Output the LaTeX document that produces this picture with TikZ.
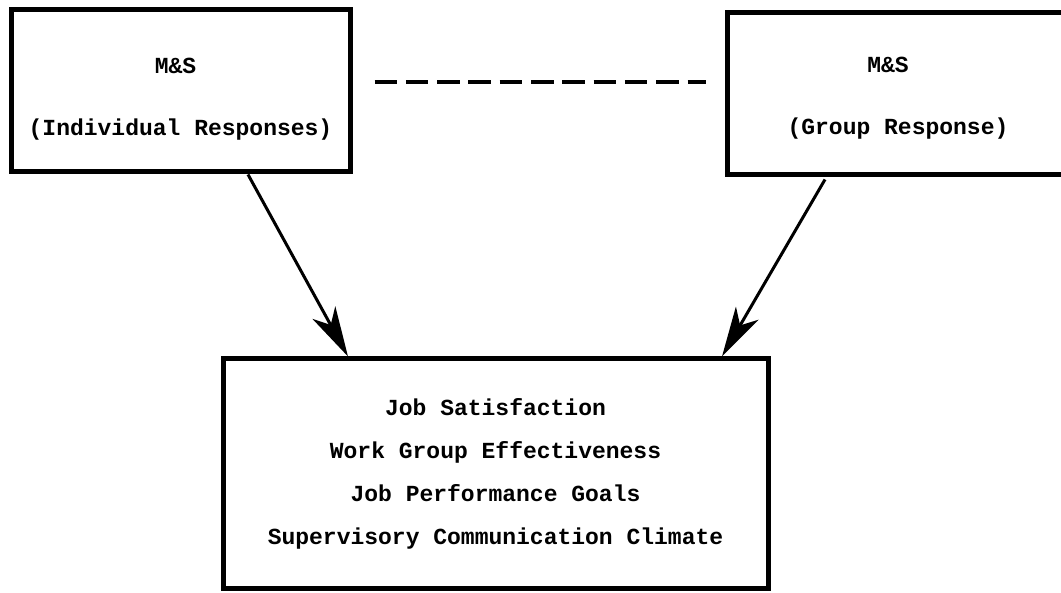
\documentclass[tikz,border=0pt]{standalone}
\usepackage{fontspec}
\setmonofont{Liberation Mono}
\usetikzlibrary{arrows.meta,calc}
\begin{document}
\begin{tikzpicture}[x=1pt,y=1pt,
  box/.style={draw, line width=5pt, rectangle, inner sep=0pt, align=center,
    font=\ttfamily\bfseries\fontsize{23}{62}\selectfont},
  listbox/.style={box, font=\ttfamily\bfseries\fontsize{23}{43}\selectfont},
  link/.style={line width=3pt, -{Stealth[length=50pt,width=26pt,inset=14pt]}},
  dashlink/.style={line width=4pt, dash pattern=on 22.5pt off 8.8pt}]
\useasboundingbox (0,0) rectangle (1061,-593);
\fill[white] (0,0) rectangle (1061,-593);
\node[box, minimum width=339pt, minimum height=162pt] (ind) at (180.5,-91)
  {\rule{0pt}{31pt}M\&S\hspace*{10pt}\\(Individual Responses)};
\node[box, minimum width=348pt, minimum height=162pt] (grp) at (901,-94)
  {\rule{0pt}{23pt}M\&S\hspace*{26pt}\\(Group Response)\hspace*{6pt}};
\node[listbox, minimum width=545pt, minimum height=229pt] (bot) at (495.5,-473.5)
  {Job Satisfaction\\Work Group Effectiveness\\Job Performance Goals\\Supervisory Communication Climate};
\draw[dashlink] ([shift={(22,9)}]ind.east) -- ([shift={(-19,12)}]grp.west);
\draw[link] ([xshift=67.5pt]ind.south) -- ([xshift=-147.5pt]bot.north);
\draw[link] ([shift={(-76,-2)}]grp.south) -- ([xshift=226.5pt]bot.north);
\end{tikzpicture}
\end{document}
